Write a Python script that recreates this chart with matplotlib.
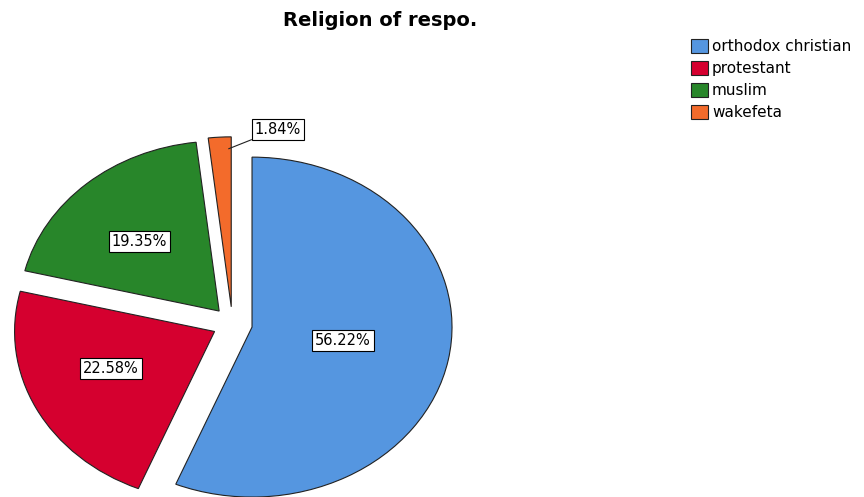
import numpy as np
import matplotlib.pyplot as plt

# 回答者の宗教
labels = ['orthodox christian', 'protestant', 'muslim', 'wakefeta']
pct = [56.22, 22.58, 19.35, 1.84]
colors = ['#5596e0', '#d5002f', '#28862a', '#f36b2b']

plt.rcParams['font.family'] = ['DejaVu Sans']

fig = plt.figure(figsize=(8.64, 4.97), dpi=100)
ax = fig.add_axes([0, 0, 1, 1])

wedges, texts = ax.pie(
    pct, colors=colors, startangle=90, counterclock=False,
    explode=[0.1] * len(pct),
    wedgeprops=dict(edgecolor='#222222', linewidth=0.8))

box = dict(boxstyle='square,pad=0.2', fc='white', ec='black', lw=0.8)

# 扇形の中のラベル
for w, p in zip(wedges, pct):
    if p < 5:
        continue
    cx, cy = w.center
    a = np.deg2rad((w.theta1 + w.theta2) / 2)
    ax.text(cx + 0.52 * np.cos(a) - 0.055, cy + 0.52 * np.sin(a) + 0.02, '%.2f%%' % p,
            ha='center', va='center', fontsize=10.5, bbox=box)

# 1.84% のラベル（引き出し線つき）
w = wedges[3]
cx, cy = w.center
a = np.deg2rad(90.8)
ax.annotate('%.2f%%' % pct[3], xy=(cx + 0.93 * np.cos(a), cy + 0.93 * np.sin(a)),
            xytext=(0.228, 1.145), ha='center', va='center', fontsize=10.5,
            bbox=box,
            arrowprops=dict(arrowstyle='-', lw=0.8, color='#222222', shrinkA=0, shrinkB=0))

# 楕円にする
ax.set_aspect('auto')
ax.set_xlim(-1.162, 3.158)
ax.set_ylim(-1.019, 1.905)
ax.axis('off')

fig.text(0.44, 0.958, 'Religion of respo.', ha='center', va='center',
         fontsize=14, fontweight='bold')

ax.legend(wedges, labels, loc='upper left', bbox_to_anchor=(0.793, 0.933),
          frameon=False, fontsize=11, handlelength=1.1, handleheight=1.0,
          handletextpad=0.25, labelspacing=0.45, borderaxespad=0)

plt.savefig('out.png')
